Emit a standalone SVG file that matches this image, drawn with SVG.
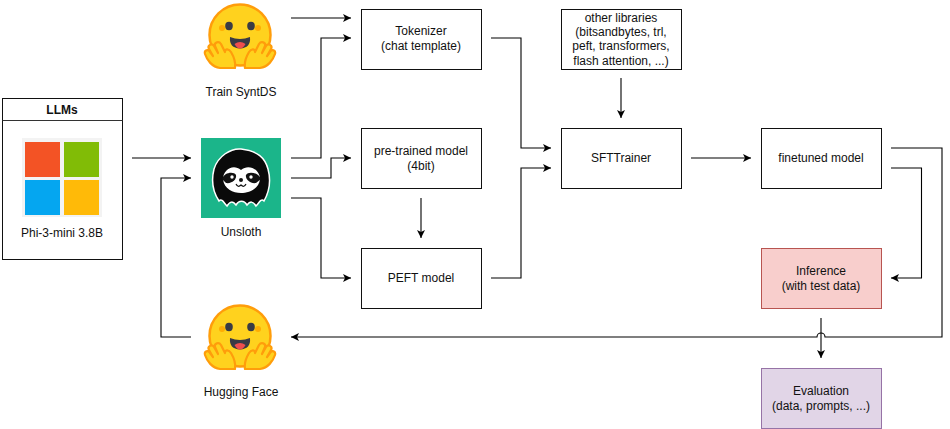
<svg xmlns="http://www.w3.org/2000/svg" width="950" height="429" viewBox="0 0 950 429">
<style>
text{font-family:"Liberation Sans",Arial,sans-serif;font-size:12px;fill:#111;text-anchor:middle}
.box{fill:#fff;stroke:#111;stroke-width:1}
.c{fill:none;stroke:#000;stroke-width:1.100;marker-end:url(#a)}
</style>
<defs>
<marker id="a" markerUnits="userSpaceOnUse" markerWidth="10" markerHeight="10" refX="8" refY="4" orient="auto"><path d="M0 0L8 4L0 8L2 4Z" fill="#000"/></marker>
<g id="hug">
<circle cx="0" cy="0" r="30.500" fill="#ffd21e" stroke="#ff9d0b" stroke-width="2.500"/>
<circle cx="-18" cy="-7" r="3" fill="#ffad03"/><circle cx="18" cy="-7" r="3" fill="#ffad03"/>
<ellipse cx="-11" cy="-9" rx="3.800" ry="4.200" fill="#3a3b45"/><ellipse cx="11" cy="-9" rx="3.800" ry="4.200" fill="#3a3b45"/>
<path d="M-10 2Q0 6 10 2Q11 13 0 13.500Q-11 13-10 2Z" fill="#3a3b45"/>
<path d="M-5.500 9Q0 5 5.500 9Q3 13.500 0 13.500Q-3 13.500-5.500 9Z" fill="#ef4e4e"/>
<g id="hand"><path d="M-5 33L-20 33C-28 32-33 25-35 19C-36 15-32 14-30 17L-27 21L-31 14C-33 10-28 8-26 11L-22 18L-25 11C-26 7-21 6-19 9L-15 17C-15 13-11 14-9 17C-6 22-4 27-5 33Z" fill="#ffd21e" stroke="#ff9d0b" stroke-width="2.200" stroke-linejoin="round"/></g>
<use href="#hand" transform="scale(-1 1)"/>
</g>
</defs>
<g id="connectors">
<path class="c" d="M132 158H191"/>
<path class="c" d="M191 337H161V178H191"/>
<path class="c" d="M291 18H351"/>
<path class="c" d="M291 158H321V38H351"/>
<path class="c" d="M291 178H331V158H351"/>
<path class="c" d="M291 198H321V278H351"/>
<path class="c" d="M421 198V238"/>
<path class="c" d="M491 38H521V148H551"/>
<path class="c" d="M491 278H521V168H551"/>
<path class="c" d="M621 78V118"/>
<path class="c" d="M691 158H751"/>
<path class="c" d="M891 168H921.500V278H891"/>
<path class="c" d="M891 148H942V337H825A4 4 0 0 0 817 337H291"/>
<path class="c" d="M821 318V358"/>
</g>
<g id="llms"><rect class="box" x="2.500" y="98.500" width="120" height="161"/><path d="M2.500 120.500H122.500" stroke="#333" stroke-width="1"/>
<text x="62" y="114" style="font-weight:bold">LLMs</text>
<rect x="22" y="138" width="80" height="79" fill="#f3f3f3"/>
<rect x="25" y="142" width="35" height="35" fill="#f35325"/><rect x="64" y="142" width="35" height="35" fill="#81bc06"/>
<rect x="25" y="180" width="35" height="35" fill="#05a6f0"/><rect x="64" y="180" width="35" height="35" fill="#ffba08"/>
<text x="62" y="237">Phi-3-mini 3.8B</text></g>
<g id="train-syntds"><use href="#hug" x="240" y="35"/><text x="241" y="96">Train SyntDS</text></g>
<g id="unsloth"><rect x="201" y="138" width="80" height="80" fill="#1bb58a"/>
<path d="M241 149C231 148 218 156 214 169C211 181 213 192 219 201C222 198 224 203 227 206C230 201 233 201 236 205C239 200 244 200 247 205C250 201 253 201 256 206C259 203 261 198 264 201C269 192 271 180 268 169C265 158 258 151 241 149Z" fill="#0a0a0a" stroke="#fff" stroke-width="1.500"/>
<path d="M241 170C233 163 223 170 223 179C224 189 233 193 241 193C249 193 259 189 260 179C260 170 249 163 241 170Z" fill="#fff"/>
<path d="M222 179C224 172 234 171 236 175C237 179 232 184 226 183Z" fill="#111"/><path d="M261 179C258 172 248 171 246 175C245 179 250 184 256 183Z" fill="#111"/>
<circle cx="232" cy="177" r="1.700" fill="#fff"/><circle cx="251" cy="177" r="1.700" fill="#fff"/>
<circle cx="241" cy="180" r="2" fill="#111"/><path d="M236 184Q238 188 241 185Q244 188 246 184" fill="none" stroke="#111" stroke-width="1.200"/>
<text x="241" y="236">Unsloth</text></g>
<g id="tokenizer"><rect class="box" x="361.500" y="9.500" width="120" height="60"/><text x="421" y="35">Tokenizer</text><text x="421" y="50">(chat template)</text></g>
<g id="pretrained"><rect class="box" x="361.500" y="128.500" width="120" height="60"/><text x="421" y="155">pre-trained model</text><text x="421" y="170">(4bit)</text></g>
<g id="peft"><rect class="box" x="361.500" y="248.500" width="120" height="60"/><text x="421" y="282">PEFT model</text></g>
<g id="libs"><rect class="box" x="561.500" y="9.500" width="120" height="60"/><text x="621" y="22">other libraries</text><text x="621" y="36">(bitsandbytes, trl,</text><text x="621" y="50">peft, transformers,</text><text x="621" y="65">flash attention, ...)</text></g>
<g id="sfttrainer"><rect class="box" x="561.500" y="128.500" width="120" height="60"/><text x="621" y="162">SFTTrainer</text></g>
<g id="finetuned"><rect class="box" x="761.500" y="128.500" width="120" height="60"/><text x="821" y="162">finetuned model</text></g>
<g id="inference"><rect x="761.500" y="248.500" width="120" height="60" fill="#f8cecc" stroke="#b85450"/><text x="821" y="275">Inference</text><text x="821" y="290">(with test data)</text></g>
<g id="hugging-face"><use href="#hug" x="240" y="336"/><text x="241" y="396">Hugging Face</text></g>
<g id="evaluation"><rect x="761.500" y="368.500" width="120" height="60" fill="#e1d5e7" stroke="#9673a6"/><text x="821" y="395">Evaluation</text><text x="821" y="410">(data, prompts, ...)</text></g>
</svg>
